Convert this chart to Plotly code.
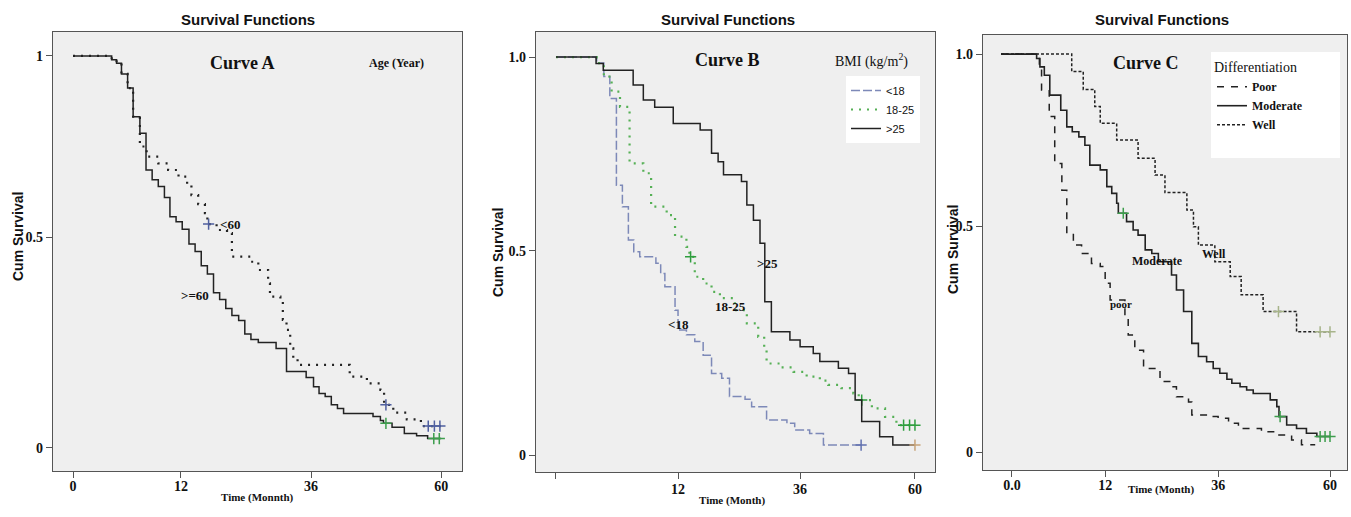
import numpy as np
import plotly.graph_objects as go

# ---------------- data ----------------
# Curve A : Age (Year)
A_time_ge60 = [0, 6.3, 7.1, 7.9, 8.9, 9.8, 10.9, 11.9, 12.9, 13.9, 14.9, 15.8, 16.8, 17.8, 18.9, 19.9, 20.9, 21.9,
               22.9, 23.9, 24.9, 25.9, 27.0, 28.0, 29.0, 30.2, 33.1, 34.8, 38.0, 39.2, 40.1, 41.1, 42.1, 43.1, 44.1,
               48.9, 50.1, 50.6, 52.0, 54.0, 56.0, 57.8, 60]
A_surv_ge60 = [1.0, .99, .981, .954, .918, .845, .803, .709, .684, .667, .639, .590, .577, .558, .520, .501, .465, .444,
               .396, .379, .356, .338, .325, .291, .277, .269, .254, .195, .180, .156, .139, .131, .110, .101, .088,
               .080, .070, .063, .053, .037, .031, .024, .024]
A_cens_ge60 = [51.0, 58.8, 59.7]

A_time_lt60 = [0, 6.3, 7.1, 7.9, 8.9, 9.8, 10.9, 12.0, 13.9, 15.5, 17.2, 18.6, 19.3, 20.4, 21.5, 21.9, 23.4, 25.1,
               25.9, 28.9, 30.2, 31.8, 32.1, 33.8, 34.2, 34.8, 35.4, 35.9, 36.6, 45.1, 47.9, 50.1, 50.7, 52.2, 54.4,
               56.7, 60]
A_surv_lt60 = [1.0, .99, .981, .954, .918, .845, .769, .743, .726, .709, .692, .673, .645, .622, .599, .571, .556, .548,
               .488, .475, .454, .420, .386, .373, .327, .301, .254, .229, .212, .182, .165, .148, .110, .090, .073,
               .056, .056]
A_cens_lt60 = [22.1, 51.0, 57.9, 58.9, 59.8]

# Curve B : BMI
B_time_lt18 = [0, 6.8, 8.0, 9.0, 10.1, 11.1, 12.1, 13.0, 14.0, 16.7, 17.5, 18.2, 19.9, 20.4, 21.8, 23.2, 24.6, 26.0,
               27.7, 29.0, 31.6, 32.7, 35.2, 38.6, 39.9, 42.4, 44.7, 51.0]
B_surv_lt18 = [1.0, .985, .951, .896, .678, .624, .540, .511, .498, .482, .456, .423, .364, .314, .302, .285, .251, .205,
               .193, .147, .140, .121, .088, .080, .063, .054, .025, .025]
B_cens_lt18 = [51.0]

B_time_1825 = [0, 6.8, 8.0, 9.3, 10.7, 12.3, 14.6, 15.9, 18.5, 19.9, 21.8, 22.3, 23.2, 24.6, 26.0, 27.4, 29.9, 31.9,
               33.8, 34.8, 35.2, 37.7, 39.7, 41.9, 44.1, 45.5, 47.7, 49.7, 50.6, 52.8, 55.0, 56.9, 60]
B_surv_1825 = [1.0, .985, .951, .913, .875, .733, .708, .624, .603, .549, .523, .498, .448, .431, .410, .394, .364, .331,
               .297, .264, .230, .220, .209, .197, .187, .176, .168, .155, .138, .117, .096, .075, .075]
B_cens_1825 = [22.5, 51.1, 58.1, 59.1, 60.0]

B_time_gt25 = [0, 6.7, 7.9, 12.9, 14.6, 16.5, 19.6, 24.1, 26.0, 27.1, 28.0, 31.0, 31.9, 33.0, 34.1, 34.9, 36.0, 39.1,
               40.8, 43.0, 44.1, 47.2, 48.9, 50.0, 51.1, 54.1, 56.3, 60]
B_surv_gt25 = [1.0, .984, .967, .930, .892, .874, .833, .817, .758, .737, .704, .687, .628, .590, .532, .385, .310, .289,
               .272, .255, .235, .218, .205, .138, .084, .046, .025, .025]
B_cens_gt25 = [60.0]

# Curve C : Differentiation
C_time_poor = [0, 7.0, 7.4, 8.8, 9.8, 11.1, 12.0, 13.2, 14.7, 16.5, 18.1, 19.0, 19.9, 22.6, 23.2, 24.4, 26.0, 29.0,
               31.1, 32.0, 34.2, 34.8, 37.8, 39.6, 41.5, 43.3, 47.5, 50.0, 53.0, 54.8, 57.3]
C_surv_poor = [1.0, .97, .910, .843, .725, .658, .549, .520, .499, .474, .466, .424, .382, .340, .294, .256, .210, .177,
               .164, .139, .126, .093, .089, .085, .072, .059, .051, .043, .030, .018, .018]

C_time_mod = [0, 6.5, 7.1, 7.9, 8.9, 10.9, 12.0, 13.0, 14.2, 15.3, 16.2, 18.1, 19.3, 20.2, 21.1, 21.4, 22.9, 24.1,
              25.0, 26.3, 27.5, 28.7, 31.1, 32.0, 33.3, 34.8, 36.0, 37.5, 38.7, 39.9, 41.2, 42.1, 43.6, 44.8, 46.0,
              49.1, 50.3, 50.7, 52.1, 53.9, 55.7, 57.6, 60]
C_surv_mod = [1.0, .989, .968, .947, .897, .859, .817, .805, .792, .771, .721, .709, .667, .650, .625, .600, .579, .558,
              .545, .508, .499, .478, .445, .407, .353, .273, .240, .227, .210, .198, .183, .173, .164, .156, .147,
              .131, .114, .089, .068, .059, .047, .039, .039]
C_cens_mod = [22.3, 50.9, 58.2, 59.1, 60.0]

C_time_well = [0, 12.9, 15.0, 17.1, 18.1, 21.1, 25.0, 28.1, 29.9, 33.9, 35.1, 36.0, 39.0, 41.8, 43.8, 47.8, 53.9, 60]
C_surv_well = [1.0, .956, .911, .868, .826, .784, .738, .696, .652, .608, .566, .520, .478, .441, .395, .353, .302, .302]
C_cens_well = [50.6, 58.2, 60.0]

# tick labels
A_xticktext = ["0", "12", "36", "60"]
A_yticktext = ["0", "0.5", "1"]
B_xticktext = ["", "12", "36", "60"]
B_yticktext = ["0", "0.5", "1.0"]
C_xticktext = ["0.0", "12", "36", "60"]
C_yticktext = ["0", "0.5", "1.0"]

# ---------------- figure ----------------
W, H = 1351, 517
SERIF = "Liberation Serif"
SANS = "Liberation Sans"


def surv_at(t, s, ct):
    t = np.asarray(t)
    s = np.asarray(s)
    idx = np.searchsorted(t, np.asarray(ct), side="right") - 1
    return s[idx]


fig = go.Figure()


def add_curve(t, s, cens, ax, color, dash, width, name, cens_color, legend=None):
    fig.add_trace(go.Scatter(
        x=t, y=s, mode="lines", name=name,
        line=dict(shape="hv", color=color, dash=dash, width=width),
        xaxis="x" + ax, yaxis="y" + ax, hoverinfo="skip",
        showlegend=legend is not None, legend=legend or "legend"))
    if cens:
        fig.add_trace(go.Scatter(
            x=cens, y=surv_at(t, s, cens), mode="markers", showlegend=False,
            marker=dict(symbol="cross-thin", size=8, line=dict(width=1.5, color=cens_color)),
            xaxis="x" + ax, yaxis="y" + ax, hoverinfo="skip"))


# Panel A
add_curve(A_time_lt60, A_surv_lt60, A_cens_lt60, "", "#222222", "2px,6px", 2.2, "<60", "#4f5f9f")
add_curve(A_time_ge60, A_surv_ge60, A_cens_ge60, "", "#222222", "solid", 1.5, ">=60", "#3d9e4d")
# Panel B
add_curve(B_time_lt18, B_surv_lt18, B_cens_lt18, "2", "#7d89b8", "9px,3px", 1.5, "<18", "#6272b0", "legend2")
add_curve(B_time_1825, B_surv_1825, B_cens_1825, "2", "#55b055", "2px,6px", 2.2, "18-25", "#2f9e3f", "legend2")
add_curve(B_time_gt25, B_surv_gt25, B_cens_gt25, "2", "#222222", "solid", 1.5, ">25", "#c8a47a", "legend2")
# Panel C
add_curve(C_time_poor, C_surv_poor, None, "3", "#222222", "7px,7px", 1.5, "Poor", None, "legend3")
add_curve(C_time_mod, C_surv_mod, C_cens_mod, "3", "#222222", "solid", 1.6, "Moderate", "#3d9e4d", "legend3")
add_curve(C_time_well, C_surv_well, C_cens_well, "3", "#222222", "3px,2px", 1.5, "Well", "#a7b48a", "legend3")

axis_common = dict(showline=True, mirror=True, linecolor="#555555", linewidth=1.2, ticks="outside",
                   ticklen=6, tickcolor="#555555", showgrid=False, zeroline=False,
                   tickfont=dict(family=SERIF, size=14, color="#111111", weight="bold"))

fig.update_layout(
    width=W, height=H, margin=dict(l=0, r=0, t=0, b=0),
    paper_bgcolor="white", plot_bgcolor="#efefef",
    xaxis=dict(domain=[53 / W, 462 / W], range=[-3.26, 63.4], tickvals=[0, 17.6, 38.8, 60],
               ticktext=A_xticktext, anchor="y", ticklabelstandoff=-4, **axis_common),
    yaxis=dict(domain=[1 - 471 / H, 1 - 32 / H], range=[-0.0587, 1.061], tickvals=[0, 0.538, 1],
               ticktext=A_yticktext, anchor="x", **axis_common),
    xaxis2=dict(domain=[536 / W, 935 / W], range=[-3.34, 63.35], tickvals=[0, 20.4, 40.8, 60],
                ticktext=B_xticktext, anchor="y2", ticklabelstandoff=-2, **axis_common),
    yaxis2=dict(domain=[1 - 472 / H, 1 - 32 / H], range=[-0.0427, 1.063], tickvals=[0, 0.513, 1],
                ticktext=B_yticktext, anchor="x2", **axis_common),
    xaxis3=dict(domain=[983 / W, 1347 / W], range=[-3.28, 63.1], tickvals=[2.0, 19.0, 39.6, 60],
                ticktext=C_xticktext, anchor="y3", ticklabelstandoff=-4, **axis_common),
    yaxis3=dict(domain=[1 - 470 / H, 1 - 35 / H], range=[-0.0452, 1.048], tickvals=[0, 0.568, 1],
                ticktext=C_yticktext, anchor="x3", **axis_common),
    legend2=dict(x=846 / W, y=1 - 76 / H, xanchor="left", yanchor="top", bgcolor="white",
                 itemwidth=30, font=dict(family=SANS, size=11, color="#111111"), tracegroupgap=0),
    legend3=dict(x=1212 / W, y=1 - 54 / H, xanchor="left", yanchor="top", bgcolor="rgba(0,0,0,0)",
                 itemwidth=30, font=dict(family=SERIF, size=12, color="#111111", weight="bold"),
                 title=dict(text="Differentiation",
                            font=dict(family=SERIF, size=14, color="#111111", weight="normal"))),
    showlegend=True,
)

# white legend box of panel C
fig.add_shape(type="rect", xref="paper", yref="paper", x0=1211 / W, x1=1340 / W, y0=1 - 158 / H,
              y1=1 - 52 / H, fillcolor="white", line=dict(width=0), layer="below")


def paper_text(txt, cx, cy, font, angle=0):
    fig.add_annotation(text=txt, xref="paper", yref="paper", x=cx / W, y=1 - cy / H, xanchor="center",
                       yanchor="middle", textangle=angle, showarrow=False, font=font)


# titles / axis titles
for cx in (248, 728, 1162):
    paper_text("<b>Survival Functions</b>", cx, 20, dict(family=SANS, size=15, color="#111111"))
for cx, cy in ((18, 237), (498, 253), (953, 250)):
    paper_text("<b>Cum Survival</b>", cx, cy, dict(family=SANS, size=14, color="#111111"), -90)
for txt, cx, cy in (("Time (Monnth)", 257, 497), ("Time (Month)", 732, 500), ("Time (Month)", 1161, 490)):
    paper_text("<b>" + txt + "</b>", cx, cy, dict(family=SERIF, size=11, color="#111111"))

# in-plot labels
labels = [
    ("<b>Curve A</b>", "", 27.6, 0.982, 18), ("<b>Age (Year)</b>", "", 52.7, 0.982, 12),
    ("<b>&lt;60</b>", "", 25.6, 0.571, 13), ("<b>&gt;=60</b>", "", 19.9, 0.388, 13),
    ("<b>Curve B</b>", "2", 28.7, 0.992, 18), ("BMI (kg/m<sup>2</sup>)", "2", 52.8, 0.992, 14),
    ("<b>&gt;25</b>", "2", 35.4, 0.482, 13), ("<b>18-25</b>", "2", 29.2, 0.372, 13),
    ("<b>&lt;18</b>", "2", 20.4, 0.327, 13),
    ("<b>Curve C</b>", "3", 26.4, 0.977, 18), ("<b>Well</b>", "3", 38.8, 0.497, 12),
    ("<b>Moderate</b>", "3", 28.6, 0.480, 12), ("<b>poor</b>", "3", 21.9, 0.372, 11),
]
for txt, ax, xv, yv, fs in labels:
    fig.add_annotation(text=txt, xref="x" + ax, yref="y" + ax, x=xv, y=yv, showarrow=False,
                       font=dict(family=SERIF, size=fs, color="#111111"))

fig.write_html("out.html")
